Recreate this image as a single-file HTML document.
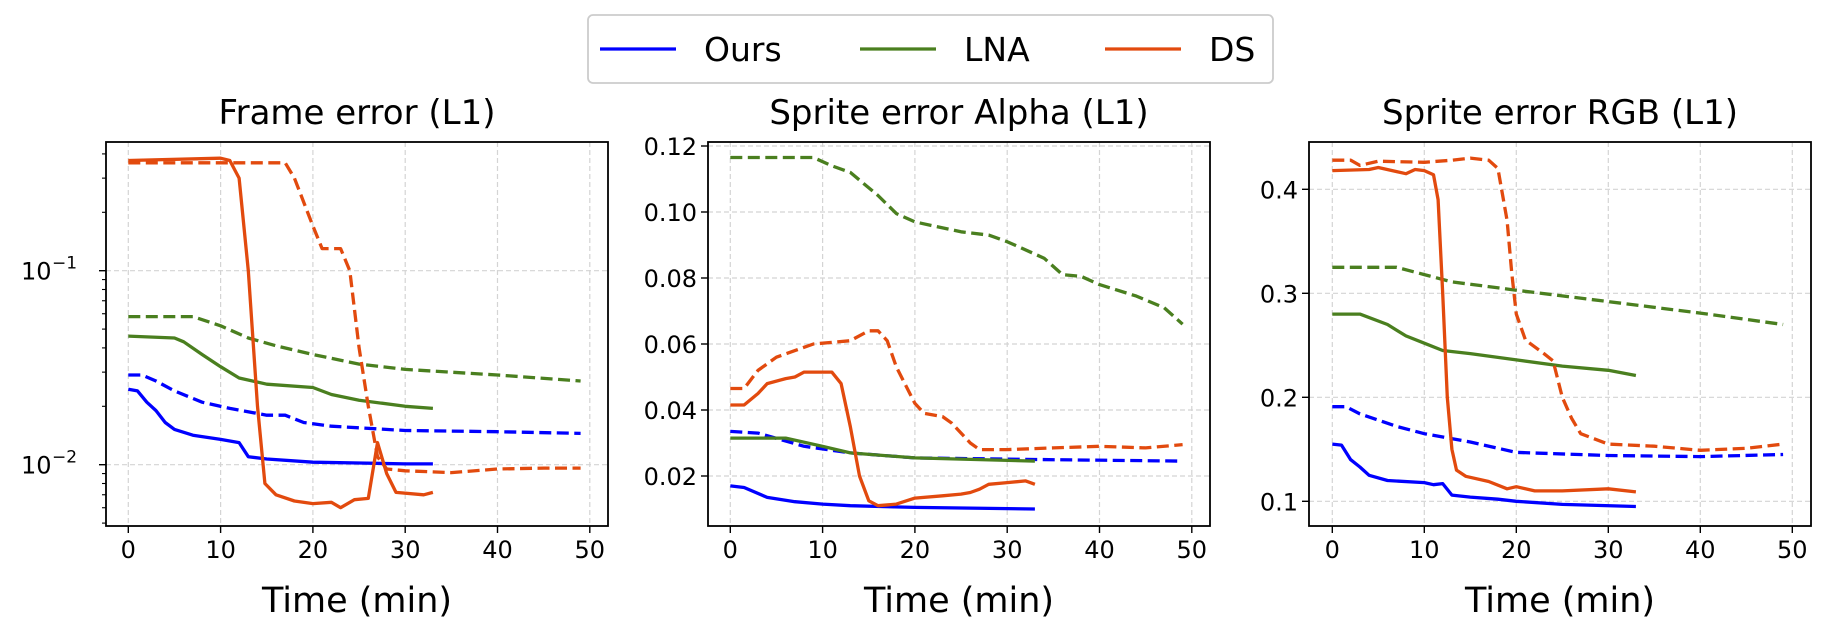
<!DOCTYPE html>
<html><head><meta charset="utf-8"><style>
body{margin:0;background:#fff;}
svg text{font-family:"DejaVu Sans","Liberation Sans",sans-serif;}
</style></head><body>
<svg id="chart" width="1831" height="638" xmlns="http://www.w3.org/2000/svg"></svg>
<script>
// ---- data ----
const seriesNames = ["Ours","LNA","DS"];
const seriesColors = ["#0000ff","#4a7f1f","#e24a0e"];
const panelTitles = ["Frame error (L1)","Sprite error Alpha (L1)","Sprite error RGB (L1)"];
const xTicks = [0,10,20,30,40,50];
// Panel 1 (log)
const p1OursSolid = [[0,0.0245],[1,0.024],[2,0.021],[3,0.019],[4,0.0165],[5,0.0152],[7,0.0142],[10,0.0135],[12,0.013],[13,0.011],[15,0.0107],[20,0.0103],[25,0.0102],[30,0.0101],[33,0.0101]];
const p1OursDash = [[0,0.029],[1.5,0.029],[3,0.027],[5,0.024],[8,0.021],[11,0.0195],[15,0.018],[17,0.018],[19,0.0165],[22,0.0158],[30,0.015],[40,0.0148],[49,0.0145]];
const p1LnaSolid = [[0,0.046],[5,0.045],[6,0.043],[8,0.037],[10,0.032],[12,0.028],[15,0.026],[20,0.025],[22,0.023],[25,0.0215],[30,0.02],[33,0.0195]];
const p1LnaDash = [[0,0.058],[7,0.058],[10,0.052],[13,0.045],[16,0.041],[20,0.037],[25,0.033],[30,0.031],[40,0.029],[49,0.027]];
const p1DsSolid = [[0,0.37],[10,0.38],[11,0.37],[12,0.3],[13,0.1],[14,0.02],[14.8,0.008],[16,0.007],[18,0.0065],[20,0.0063],[22,0.0064],[23,0.006],[24.5,0.0066],[26,0.0067],[27,0.013],[28,0.009],[29,0.0072],[32,0.007],[33,0.0072]];
const p1DsDash = [[0,0.36],[17,0.36],[18,0.3],[20,0.17],[21,0.13],[23,0.13],[24,0.1],[25,0.04],[26,0.02],[27,0.011],[28,0.0095],[30,0.0093],[35,0.0091],[40,0.0095],[45,0.0096],[49,0.0096]];
// Panel 2
const p2OursSolid = [[0,0.017],[1.5,0.0165],[4,0.0135],[7,0.0122],[10,0.0115],[13,0.011],[20,0.0105],[33,0.010]];
const p2OursDash = [[0,0.0335],[3,0.033],[8,0.029],[13,0.027],[20,0.0255],[33,0.025],[49,0.0245]];
const p2LnaSolid = [[0,0.0315],[6,0.0315],[10,0.029],[13,0.027],[20,0.0255],[33,0.0245]];
const p2LnaDash = [[0,0.1165],[9,0.1165],[11,0.114],[13,0.112],[16,0.105],[18,0.0995],[20,0.097],[25,0.094],[28,0.093],[30,0.091],[34,0.086],[36,0.081],[38,0.0805],[40,0.078],[44,0.0745],[47,0.071],[49,0.066]];
const p2DsSolid = [[0,0.0415],[1.5,0.0415],[3,0.045],[4,0.048],[6,0.0495],[7,0.05],[8,0.0515],[11,0.0515],[12,0.048],[13,0.035],[14,0.02],[15,0.0125],[16,0.011],[18,0.0115],[20,0.0133],[23,0.014],[25,0.0145],[26,0.015],[27,0.016],[28,0.0175],[30,0.018],[32,0.0185],[33,0.0175]];
const p2DsDash = [[0,0.0465],[1.5,0.0465],[3,0.052],[5,0.056],[7,0.058],[9,0.06],[11,0.0605],[13,0.061],[15,0.064],[16,0.064],[17,0.061],[18,0.053],[20,0.042],[21,0.039],[23,0.038],[24,0.036],[26,0.03],[27,0.028],[30,0.028],[35,0.0285],[40,0.029],[45,0.0285],[49,0.0295]];
// Panel 3
const p3OursSolid = [[0,0.155],[1,0.154],[2,0.14],[3,0.133],[4,0.125],[6,0.12],[10,0.118],[11,0.116],[12,0.117],[13,0.106],[15,0.104],[18,0.102],[20,0.1],[25,0.097],[33,0.095]];
const p3OursDash = [[0,0.191],[1.5,0.191],[3,0.184],[7,0.172],[10,0.165],[15,0.157],[20,0.147],[30,0.144],[40,0.143],[49,0.145]];
const p3LnaSolid = [[0,0.28],[3,0.28],[6,0.27],[8,0.259],[10,0.252],[12,0.245],[15,0.242],[20,0.236],[25,0.23],[30,0.226],[33,0.221]];
const p3LnaDash = [[0,0.325],[7,0.325],[10,0.318],[13,0.311],[20,0.303],[30,0.292],[40,0.281],[49,0.27]];
const p3DsSolid = [[0,0.418],[4,0.419],[5,0.421],[7,0.417],[8,0.415],[9,0.419],[10,0.418],[11,0.414],[11.5,0.39],[12,0.3],[12.5,0.2],[13,0.15],[13.5,0.13],[14.5,0.124],[17,0.119],[19,0.112],[20,0.114],[22,0.11],[25,0.11],[30,0.112],[33,0.109]];
const p3DsDash = [[0,0.428],[2,0.428],[3,0.423],[5,0.427],[10,0.426],[13,0.428],[15,0.43],[17,0.428],[18,0.42],[19,0.37],[19.5,0.32],[20,0.28],[21,0.255],[23,0.242],[24,0.235],[25,0.2],[26,0.18],[27,0.165],[30,0.155],[35,0.153],[40,0.149],[45,0.151],[49,0.155]];
const p2Ticks = [0.02,0.04,0.06,0.08,0.10,0.12];
const p3Ticks = [0.1,0.2,0.3,0.4];

const NS="http://www.w3.org/2000/svg";
const svg=document.getElementById('chart');
function mk(tag,attrs,parent){const e=document.createElementNS(NS,tag);for(const k in attrs)e.setAttribute(k,attrs[k]);(parent||svg).appendChild(e);return e;}

const panels=[
 {left:106,right:608,x0:128.3,xs:9.23,log:true,yf:v=>270.7-194*(Math.log10(v)+1),data:[p1OursSolid,p1OursDash,p1LnaSolid,p1LnaDash,p1DsSolid,p1DsDash]},
 {left:708,right:1210,x0:730.3,xs:9.23,log:false,yf:v=>146+(0.12-v)*3300,ticks:p2Ticks,fmt:v=>v.toFixed(2),data:[p2OursSolid,p2OursDash,p2LnaSolid,p2LnaDash,p2DsSolid,p2DsDash]},
 {left:1309,right:1811,x0:1332.3,xs:9.2,log:false,yf:v=>189.3+(0.4-v)*1040,ticks:p3Ticks,fmt:v=>v.toFixed(1),data:[p3OursSolid,p3OursDash,p3LnaSolid,p3LnaDash,p3DsSolid,p3DsDash]}
];
const plotTop=142,plotBot=526;
panels.forEach((p,i)=>{
  const g=mk('g',{});
  
  
  const xf=x=>p.x0+p.xs*x;
  xTicks.forEach(t=>{
    const X=xf(t);
    const gl=mk('line',{x1:X,x2:X,y1:plotTop,y2:plotBot,stroke:'#d4d4d4','stroke-width':1.2,'stroke-dasharray':'5,3'},g);
    
    
    mk('line',{x1:X,x2:X,y1:plotBot,y2:plotBot+7,stroke:'#000','stroke-width':1.4},g);
    const tx=mk('text',{x:X,y:plotBot+32,'font-size':24,'text-anchor':'middle'},g);tx.textContent=t;
    
    
  });
  if(p.log){
    [-1,-2].forEach(e=>{
      const Y=p.yf(Math.pow(10,e));
      mk('line',{x1:p.left,x2:p.right,y1:Y,y2:Y,stroke:'#d4d4d4','stroke-width':1.2,'stroke-dasharray':'5,3'},g);
      mk('line',{x1:p.left-7,x2:p.left,y1:Y,y2:Y,stroke:'#000','stroke-width':1.4},g);
      const tx=mk('text',{x:21,y:Y+9,'font-size':24},g);tx.textContent='10';
      
      
      const sp=mk('text',{x:52,y:Y-2,'font-size':17},g);sp.textContent='\u2212'+(-e);
    });
    [-3,-2,-1].forEach(e=>{for(let m=2;m<=9;m++){const v=m*Math.pow(10,e);const Y=p.yf(v);if(Y<plotTop||Y>plotBot)continue;mk('line',{x1:p.left-4,x2:p.left,y1:Y,y2:Y,stroke:'#000','stroke-width':1.1},g);}});
  } else {
    p.ticks.forEach(t=>{
      const Y=p.yf(t);
      mk('line',{x1:p.left,x2:p.right,y1:Y,y2:Y,stroke:'#d4d4d4','stroke-width':1.2,'stroke-dasharray':'5,3'},g);
      mk('line',{x1:p.left-7,x2:p.left,y1:Y,y2:Y,stroke:'#000','stroke-width':1.4},g);
      const tx=mk('text',{x:p.left-11,y:Y+9,'font-size':24,'text-anchor':'end'},g);tx.textContent=p.fmt(t);
      
      
    });
  }
  p.data.forEach((d,k)=>{
    const pts=d.map(q=>xf(q[0]).toFixed(1)+','+p.yf(q[1]).toFixed(1)).join(' ');
    const pl=mk('polyline',{points:pts,fill:'none',stroke:seriesColors[Math.floor(k/2)],'stroke-width':3.3,'stroke-linejoin':'round','stroke-dasharray':k%2?'12,5.5':'none'},g);
    
    
  });
  const fr=mk('rect',{x:p.left,y:plotTop,width:p.right-p.left,height:plotBot-plotTop,fill:'none',stroke:'#000','stroke-width':1.8},g);
  
  
  const ti=mk('text',{x:(p.left+p.right)/2,y:124,'font-size':34,'text-anchor':'middle'},g);ti.textContent=panelTitles[i];
  
  
  const xl=mk('text',{x:(p.left+p.right)/2,y:612,'font-size':35,'text-anchor':'middle'},g);xl.textContent='Time (min)';
  
  
});
const lg=mk('g',{});


mk('rect',{x:588,y:15,width:685,height:68,rx:5,fill:'#fff',stroke:'#cccccc','stroke-width':1.8},lg);
const lx=[600,860,1105];
seriesNames.forEach((n,i)=>{
  const ln=mk('line',{x1:lx[i],x2:lx[i]+76,y1:49,y2:49,stroke:seriesColors[i],'stroke-width':3.3},lg);
  
  
  const t=mk('text',{x:lx[i]+104,y:61,'font-size':33},lg);t.textContent=n;
  
  
});
</script>
</body></html>
